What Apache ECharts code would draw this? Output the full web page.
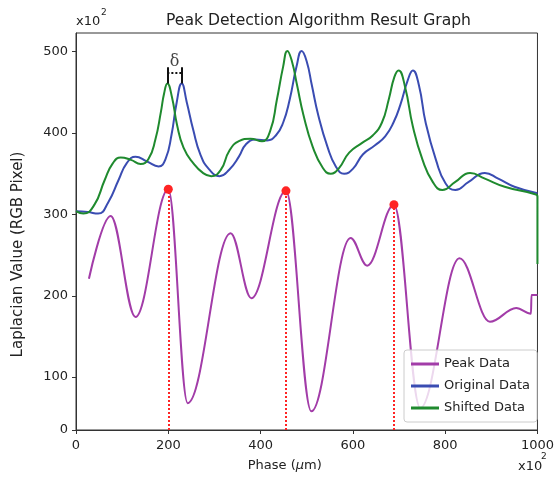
<!DOCTYPE html>
<html><head><meta charset="utf-8">
<script src="https://cdn.jsdelivr.net/npm/echarts@6/dist/echarts.min.js"></script>
<style>html,body{margin:0;padding:0;background:#fff}#c{width:557px;height:479px}</style>
</head><body><div id="c"></div>
<script>
const xTicks = [0,200,400,600,800,1000];
const yTicks = [35,100,200,300,400,500];
const yTickLabels = ['0','100','200','300','400','500'];
const seriesNames = ['Peak Data','Original Data','Shifted Data'];
const peakData = [[28,221],[75,298],[129,174],[200,331],[242,68],[335,277],[380,197],[455,329],[510,58],[595,271],[631,237],[689,312],[746,62],[831,246],[897,168],[954,185],[986,178],[987,201],[1000,201]];
const originalData = [[0,304],[25,303],[48,301],[70,315],[92,342],[110,363],[129,371],[154,365],[179,359],[194,368],[207,398],[218,437],[229,461],[240,438],[254,404],[270,373],[289,355],[311,347],[332,355],[353,371],[368,386],[389,392],[414,391],[433,397],[449,413],[463,441],[478,482],[489,501],[500,488],[511,459],[525,422],[545,383],[563,359],[581,350],[600,356],[622,374],[648,385],[670,396],[688,413],[703,435],[719,465],[730,477],[743,459],[758,412],[780,367],[801,338],[822,330],[851,340],[886,351],[915,344],[950,334],[1000,326]];
const shiftedData = [[0,304],[16,301],[40,312],[62,342],[80,363],[97,370],[119,367],[140,362],[157,368],[172,392],[184,426],[191,449],[198,461],[208,444],[219,410],[233,382],[254,363],[275,351],[293,347],[314,355],[332,378],[353,390],[378,393],[403,390],[421,403],[435,440],[449,482],[458,501],[468,488],[479,459],[493,422],[513,383],[535,357],[552,350],[570,357],[592,376],[620,388],[643,397],[663,413],[678,442],[690,469],[699,477],[713,457],[730,408],[751,367],[773,340],[794,330],[822,340],[854,351],[886,344],[929,334],[993,325],[1000,322],[1000,239]];
const peakX = [200,455,689];
const peakY = [331,329,312];
const deltaX = [198,229];
const deltaBar = [461,481];
const deltaDotY = 474;
const deltaLabelY = 487;

const Y_MIN = 35, Y_MAX = 523;
const FONT = 'DejaVu Sans';
const colors = ['#a23ca8','#3a4cb2','#1f8a2e'];
const RED = '#ff2424';

const chart = echarts.init(document.getElementById('c'));
const lineSeries = [peakData, originalData, shiftedData].map((d,i)=>({
  name: seriesNames[i], type:'line', data:d,
  smooth: i===0 ? 0.37 : 0.5, smoothMonotone: i===0 ? 'x' : undefined, symbol:'none',
  lineStyle:{color:colors[i], width:2}, itemStyle:{color:colors[i]}, z:2+i, animation:false
}));

chart.setOption({
  animation:false,
  title:{text:'Peak Detection Algorithm Result Graph', left:161, top:8,
    textStyle:{fontFamily:FONT, fontSize:15.6, fontWeight:'normal', color:'#222'}},
  grid:{left:76, right:13, top:33, bottom:49, show:true, borderColor:'#333', borderWidth:1},
  legend:{
    data: seriesNames.map(n=>({name:n, icon:'rect'})),
    orient:'vertical', left:404, top:350, itemWidth:28, itemHeight:3, itemGap:6,
    padding:[6,7,6,7], backgroundColor:'rgba(255,255,255,0.8)', borderColor:'#ccc', borderWidth:1, borderRadius:3,
    textStyle:{fontFamily:FONT, fontSize:13, color:'#222', lineHeight:16}
  },
  xAxis:{type:'value', min:xTicks[0], max:xTicks[xTicks.length-1], interval:200,
    name:'Phase ({it|μ}m)', nameLocation:'middle', nameGap:29,
    nameTextStyle:{fontFamily:FONT, fontSize:13, color:'#222', padding:[0,44,0,0],
      rich:{it:{fontFamily:FONT, fontStyle:'italic', fontSize:13, color:'#222'}}},
    axisLine:{show:true, lineStyle:{color:'#333'}},
    axisTick:{show:true, length:4, lineStyle:{color:'#333'}},
    axisLabel:{fontFamily:FONT, fontSize:13, color:'#222', margin:9, formatter:(v)=>String(v)},
    splitLine:{show:false}},
  yAxis:{type:'value', min:Y_MIN, max:Y_MAX,
    name:'Laplacian Value (RGB Pixel)', nameLocation:'middle', nameGap:50,
    nameTextStyle:{fontFamily:FONT, fontSize:15, color:'#222', padding:[0,46,0,0]},
    axisLine:{show:true, lineStyle:{color:'#333'}},
    axisTick:{show:true, length:4, customValues:yTicks, lineStyle:{color:'#333'}},
    axisLabel:{fontFamily:FONT, fontSize:13, color:'#222', margin:8, customValues:yTicks,
      formatter:(v)=>{const i=yTicks.indexOf(v); return i>=0?yTickLabels[i]:'';}},
    splitLine:{show:false}},
  graphic:[
    {type:'text', left:76, top:15, style:{text:'x10', font:'13px "DejaVu Sans"', fill:'#222'}},
    {type:'text', left:101, top:8, style:{text:'2', font:'9px "DejaVu Sans"', fill:'#222'}},
    {type:'text', left:518, top:460, style:{text:'x10', font:'13px "DejaVu Sans"', fill:'#222'}},
    {type:'text', left:541, top:452, style:{text:'2', font:'9px "DejaVu Sans"', fill:'#222'}}
  ],
  series:[
    ...lineSeries,
    {name:'peaks', type:'scatter', data:peakX.map((x,i)=>[x,peakY[i]]), symbolSize:9,
      itemStyle:{color:RED, opacity:1}, z:10, animation:false,
      markLine:{silent:true, symbol:['none','none'], label:{show:false}, animation:false,
        lineStyle:{color:RED, width:2, type:[2,2], opacity:1},
        data: peakX.map((x,i)=>[{coord:[x,Y_MIN]},{coord:[x,peakY[i]]}])}},
    {name:'delta', type:'scatter', data:[[(deltaX[0]+deltaX[1])/2, deltaLabelY]], symbolSize:0,
      label:{show:true, position:'inside', formatter:'δ', fontFamily:'DejaVu Serif', fontSize:16, color:'#111'},
      z:11, animation:false,
      markLine:{silent:true, symbol:['none','none'], label:{show:false}, animation:false,
        data:[
          [{coord:[deltaX[0],deltaBar[0]], lineStyle:{color:'#111', width:2, type:'solid', opacity:1}},{coord:[deltaX[0],deltaBar[1]]}],
          [{coord:[deltaX[1],deltaBar[0]], lineStyle:{color:'#111', width:2, type:'solid', opacity:1}},{coord:[deltaX[1],deltaBar[1]]}],
          [{coord:[deltaX[0],deltaDotY], lineStyle:{color:'#111', width:2, type:[2,2], opacity:1}},{coord:[deltaX[1],deltaDotY]}]
        ]}}
  ]
});
</script></body></html>
